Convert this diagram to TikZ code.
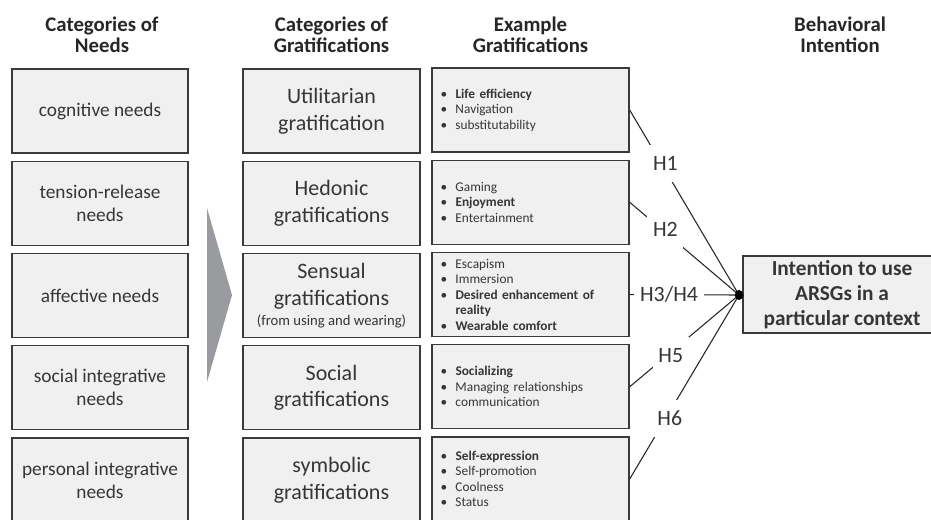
\documentclass[tikz,border=0pt]{standalone}
\usepackage{fontspec}
\setmainfont{Carlito}
\usepackage{xcolor}
\usepackage{tikz}
\usetikzlibrary{positioning}
\definecolor{boxfill}{HTML}{F0F0F0}
\definecolor{boxline}{HTML}{3A3A3A}
\definecolor{boxtext}{HTML}{363636}
\definecolor{arrowgray}{HTML}{9A9B9F}
\newcommand{\gbul}{\makebox[11.25pt][l]{\textbullet}}
\newcommand{\gcont}{\hspace*{11.25pt}}
\tikzset{
  headlabel/.style={
    font=\bfseries\fontsize{15.6}{15.5}\selectfont, align=center,
    text=black!85
  },
  needbox/.style={
    draw=boxline, fill=boxfill, line width=1pt, align=center,
    minimum width=132pt, minimum height=63pt,
    font=\fontsize{14.5}{17.3}\selectfont, text=boxtext
  },
  gratbox/.style={
    needbox, minimum width=132.75pt,
    font=\fontsize{16.5}{20}\selectfont
  },
  examplebox/.style={
    needbox, minimum width=147.75pt, text width=135pt, align=left,
    font=\fontsize{10}{11.6}\selectfont
  },
  intentbox/.style={
    needbox, minimum width=148.5pt, minimum height=57.75pt, inner sep=1pt,
    font=\bfseries\fontsize{16}{18.75}\selectfont
  },
  hyplabel/.style={
    fill=white, font=\fontsize{16.4}{18}\selectfont, text=boxtext,
    inner xsep=4.3pt, inner ysep=8.5pt
  },
  hypline/.style={line width=0.8pt, color=black!85},
}

\begin{document}
\begin{tikzpicture}[x=0.75pt, y=-0.75pt]
  \useasboundingbox (0,0) rectangle (931,519);

  % ── Column headers ──
  \node[headlabel] (hneeds) at (102,34.5) {Categories of\\Needs};
  \node[headlabel] (hgrats) at (331.5,34.5) {Categories of\\Gratifications};
  \node[headlabel] (hexamples) at (530.5,34.5) {Example\\Gratifications};
  \node[headlabel] (hintent) at (840,34.5) {Behavioral\\Intention};

  % ── Categories of needs ──
  \node[needbox] (needcog) at (100,111) {cognitive needs};
  \node[needbox, below=5.2pt of needcog] (needtens) {tension-release\\needs};
  \node[needbox, below=5.2pt of needtens] (needaff) {affective needs};
  \node[needbox, below=5.2pt of needaff] (needsoc) {social integrative\\needs};
  \node[needbox, below=5.2pt of needsoc] (needpers) {personal integrative\\needs};

  \fill[arrowgray] (207,208) -- (232,295) -- (207,382) -- cycle;

  % ── Categories of gratifications ──
  \node[gratbox] (gratutil) at (331.5,111) {Utilitarian\\gratification};
  \node[gratbox, below=5.2pt of gratutil] (grathed) {Hedonic\\gratifications};
  \node[gratbox, below=5.2pt of grathed] (gratsens)
    {Sensual\\gratifications\\[-5pt]{\fontsize{11}{13}\selectfont (from using and wearing)}};
  \node[gratbox, below=5.2pt of gratsens] (gratsoc) {Social\\gratifications};
  \node[gratbox, below=5.2pt of gratsoc] (gratsym) {symbolic\\gratifications};

  % ── Example gratifications ──
  \node[examplebox] (exutil) at (530.5,110)
    {\gbul\textbf{Life efficiency}\\\gbul Navigation\\\gbul substitutability};
  \node[examplebox, below=5.2pt of exutil] (exhed)
    {\gbul Gaming\\\gbul\textbf{Enjoyment}\\\gbul Entertainment};
  \node[examplebox, below=5.2pt of exhed] (exsens)
    {\gbul Escapism\\\gbul Immersion\\\gbul\textbf{Desired enhancement of}\\
     \gcont\textbf{reality}\\\gbul\textbf{Wearable comfort}};
  \node[examplebox, below=5.2pt of exsens] (exsoc)
    {\gbul\textbf{Socializing}\\\gbul Managing relationships\\\gbul communication};
  \node[examplebox, below=5.2pt of exsoc] (exsym)
    {\gbul\textbf{Self-expression}\\\gbul Self-promotion\\\gbul Coolness\\\gbul Status};

  % ── Behavioral intention ──
  \node[intentbox] (intention) at (842,294.5)
    {Intention to use\\ARSGs in a\\particular context};
  \coordinate (hub) at (739,295);

  \draw[hypline] (exutil.east) -- node[hyplabel, pos=.29, xshift=3pt] {H1} (hub);
  \draw[hypline] (exhed.east) -- node[hyplabel, pos=.29, xshift=3pt] {H2} (hub);
  \draw[hypline] (exsens.east) -- node[hyplabel, pos=.36] {H3/H4} (hub);
  \draw[hypline] (exsoc.east) -- node[hyplabel, pos=.34, xshift=3pt] {H5} (hub);
  \draw[hypline] (exsym.east) -- node[hyplabel, pos=.33, xshift=3pt] {H6} (hub);
  \fill[black] (hub) ellipse (3.2pt and 3.8pt);
\end{tikzpicture}
\end{document}
